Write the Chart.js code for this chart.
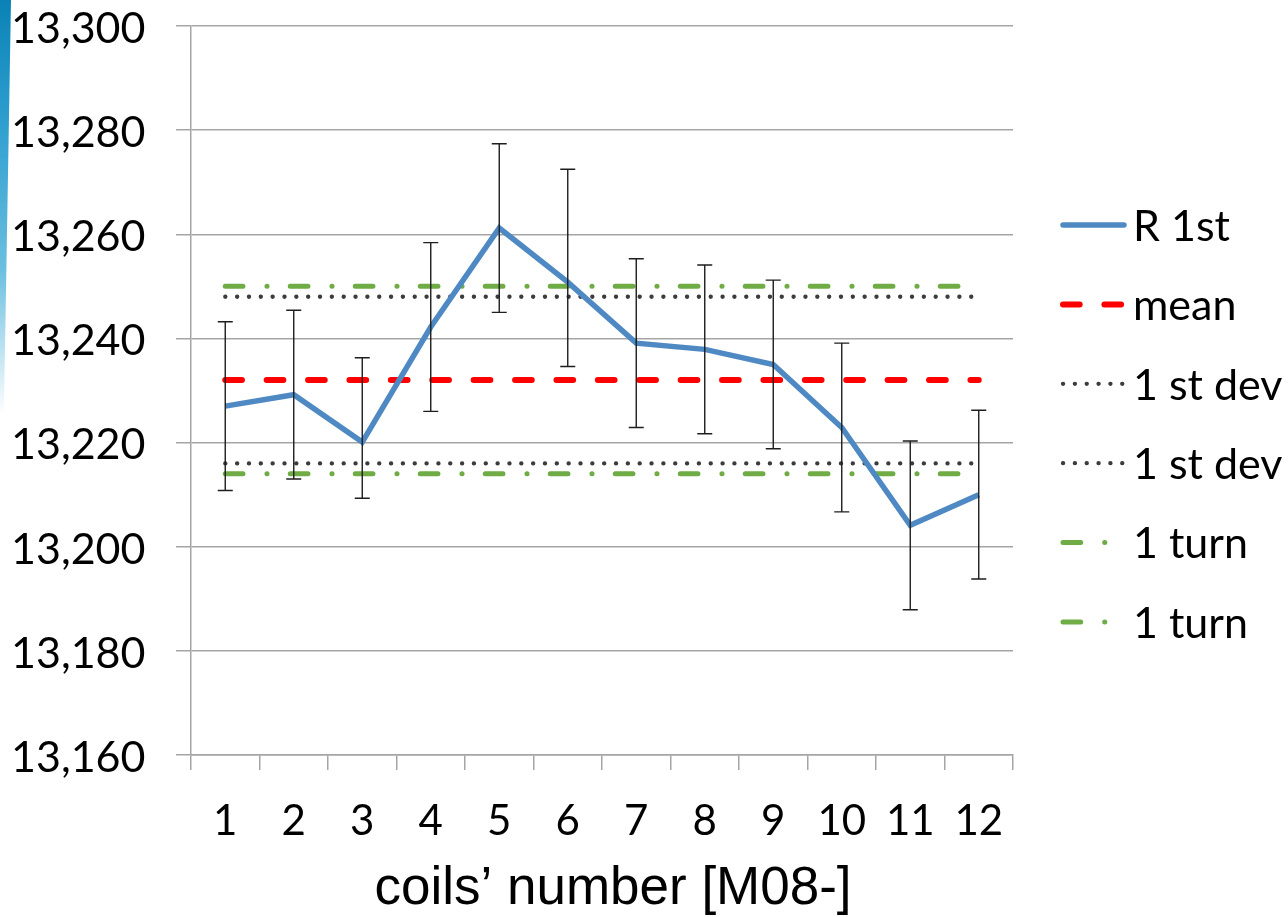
<!DOCTYPE html>
<html>
<head>
<meta charset="utf-8">
<title>coils R 1st</title>
<script src="https://cdn.jsdelivr.net/npm/chart.js@4.4.1/dist/chart.umd.min.js"></script>
<style>
  html, body { margin: 0; padding: 0; background: #fff; }
  #wrap { position: relative; width: 1288px; height: 917px; overflow: hidden; }
  #wrap canvas { position: absolute; left: 0; top: 0; }
  /* slide accent on the left edge */
  #stripe {
    position: absolute; left: 0; top: 0; width: 11px; height: 415px;
    background: linear-gradient(to bottom, #0a82b6 0%, #2f9fcf 30%, #6cbfe0 65%, rgba(190, 228, 242, 0) 100%);
    clip-path: polygon(0 0, 100% 0, 35% 100%, 0 100%);
  }
</style>
</head>
<body>
<div id="wrap">
  <canvas id="coilChart" width="1288" height="917"></canvas>
  <div id="stripe"></div>
</div>
<script>
// coil numbers (M08-xx)
const coils = ['1', '2', '3', '4', '5', '6', '7', '8', '9', '10', '11', '12'];

// measured R 1st per coil
const rFirst = [13227.0, 13229.2, 13220.1, 13242.2, 13261.2, 13250.8, 13239.1, 13237.9, 13235.0, 13222.9, 13204.1, 13210.0];
const errPlus = [16.2, 16.2, 16.2, 16.2, 16.2, 21.7, 16.2, 16.2, 16.2, 16.2, 16.2, 16.2];
const errMinus = [16.2, 16.2, 10.8, 16.2, 16.2, 16.2, 16.2, 16.2, 16.2, 16.2, 16.2, 16.2];

// reference levels
const meanLine = [13232, 13232, 13232, 13232, 13232, 13232, 13232, 13232, 13232, 13232, 13232, 13232];
const devHigh = [13248, 13248, 13248, 13248, 13248, 13248, 13248, 13248, 13248, 13248, 13248, 13248];
const devLow = [13216, 13216, 13216, 13216, 13216, 13216, 13216, 13216, 13216, 13216, 13216, 13216];
const turnHigh = [13250, 13250, 13250, 13250, 13250, 13250, 13250, 13250, 13250, 13250, 13250, 13250];
const turnLow = [13214, 13214, 13214, 13214, 13214, 13214, 13214, 13214, 13214, 13214, 13214, 13214];

const yTicks = [13160, 13180, 13200, 13220, 13240, 13260, 13280, 13300];

const BLUE = '#4f89c3';
const RED = '#ff0000';
const GREY = '#3c3c3c';
const GREEN = '#6fac46';
const AXIS = '#a5a5a5';
const LABEL_FONT = 'Lato, "Open Sans", sans-serif';

const DOTS = [0.1, 11.74];
const DASH = [16.7, 24.7];
const DASH_DOT = [17.7, 24, 0.1, 23.2];

// vertical error bars with end caps on the R 1st series
const errorBars = {
  id: 'errorBars',
  afterDatasetsDraw(chart) {
    const meta = chart.getDatasetMeta(0);
    const yScale = chart.scales.y;
    const ctx = chart.ctx;
    ctx.save();
    ctx.strokeStyle = '#1e1e1e';
    ctx.lineWidth = 1.4;
    meta.data.forEach((pt, i) => {
      const top = yScale.getPixelForValue(rFirst[i] + errPlus[i]);
      const bot = yScale.getPixelForValue(rFirst[i] - errMinus[i]);
      ctx.beginPath();
      ctx.moveTo(pt.x, top);
      ctx.lineTo(pt.x, bot);
      ctx.moveTo(pt.x - 7.5, top);
      ctx.lineTo(pt.x + 7.5, top);
      ctx.moveTo(pt.x - 7.5, bot);
      ctx.lineTo(pt.x + 7.5, bot);
      ctx.stroke();
    });
    ctx.restore();
  }
};

// legend on the right, one row per dataset
const sideLegend = {
  id: 'sideLegend',
  afterDraw(chart) {
    const ctx = chart.ctx;
    const x0 = chart.chartArea.right + 50;
    const x1 = x0 + 61;
    chart.data.datasets.forEach((ds, i) => {
      const y = 225 + i * 79.4;
      ctx.save();
      ctx.strokeStyle = ds.borderColor;
      ctx.lineWidth = ds.borderWidth;
      ctx.lineCap = 'round';
      ctx.setLineDash(ds.borderDash || []);
      ctx.beginPath();
      ctx.moveTo(x0, y);
      ctx.lineTo(x1, y);
      ctx.stroke();
      ctx.setLineDash([]);
      ctx.fillStyle = '#000';
      ctx.font = '43px ' + LABEL_FONT;
      ctx.textBaseline = 'middle';
      ctx.fillText(ds.label, x1 + 9, y + 2);
      ctx.restore();
    });
  }
};

new Chart(document.getElementById('coilChart'), {
  type: 'line',
  data: {
    labels: coils,
    datasets: [
      { label: 'R 1st', data: rFirst, borderColor: BLUE, borderWidth: 5.5, borderJoinStyle: 'miter' },
      { label: 'mean', data: meanLine, borderColor: RED, borderWidth: 6, borderDash: DASH, borderCapStyle: 'round' },
      { label: '1 st dev', data: devHigh, borderColor: GREY, borderWidth: 4.3, borderDash: DOTS, borderCapStyle: 'round' },
      { label: '1 st dev', data: devLow, borderColor: GREY, borderWidth: 4.3, borderDash: DOTS, borderCapStyle: 'round' },
      { label: '1 turn', data: turnHigh, borderColor: GREEN, borderWidth: 5, borderDash: DASH_DOT, borderCapStyle: 'round' },
      { label: '1 turn', data: turnLow, borderColor: GREEN, borderWidth: 5, borderDash: DASH_DOT, borderCapStyle: 'round' }
    ].map(ds => Object.assign({ pointRadius: 0, fill: false, tension: 0 }, ds))
  },
  options: {
    responsive: false,
    animation: false,
    devicePixelRatio: 1,
    layout: { padding: { left: 11, right: 73, top: 26, bottom: 0 } },
    plugins: {
      legend: { display: false },
      tooltip: { enabled: false },
      title: {
        display: true,
        position: 'bottom',
        text: 'coils’ number [M08-]',
        color: '#000',
        font: { family: '"Liberation Sans", Arial, sans-serif', size: 53, weight: 'normal', lineHeight: 1 },
        padding: { top: 16, bottom: 1 }
      }
    },
    scales: {
      x: {
        offset: true,
        afterFit: scale => { scale.height = 92; },
        grid: { offset: true, drawOnChartArea: false, drawTicks: true, tickLength: 15, color: AXIS, lineWidth: 1.5 },
        border: { color: AXIS, width: 1.5 },
        ticks: { color: '#000', font: { family: LABEL_FONT, size: 42 }, padding: 26, maxRotation: 0, autoSkip: false }
      },
      y: {
        min: yTicks[0],
        max: yTicks[yTicks.length - 1],
        afterBuildTicks: scale => { scale.ticks = yTicks.map(v => ({ value: v })); },
        afterFit: scale => { scale.width = 180; },
        grid: { color: AXIS, lineWidth: 1.5, tickLength: 15 },
        border: { color: AXIS, width: 1.5 },
        ticks: {
          color: '#000',
          font: { family: LABEL_FONT, size: 43 },
          padding: 0,
          crossAlign: 'far',
          labelOffset: 3,
          callback: v => v.toLocaleString('en-US')
        }
      },
      // empty axis that keeps the right side free for the legend
      yLegend: {
        position: 'right',
        afterFit: scale => { scale.width = 202; },
        grid: { display: false },
        border: { display: false },
        ticks: { display: false }
      }
    }
  },
  plugins: [errorBars, sideLegend]
});
</script>
</body>
</html>
